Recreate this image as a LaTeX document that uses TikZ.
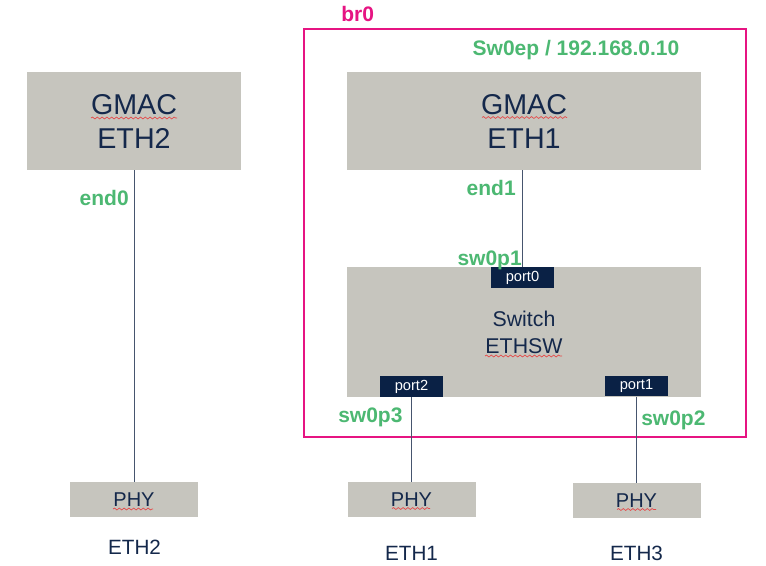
\documentclass[tikz,border=0pt]{standalone}
\usepackage{fontspec}
\setmainfont{Liberation Sans}
\usetikzlibrary{decorations.pathmorphing}
\definecolor{boxgray}{RGB}{198,197,190}
\definecolor{navytext}{RGB}{20,40,75}
\definecolor{portnavy}{RGB}{10,33,69}
\definecolor{labelgreen}{RGB}{76,184,114}
\definecolor{brpink}{RGB}{230,20,130}
\definecolor{linecol}{RGB}{70,85,110}
\definecolor{squigred}{RGB}{230,70,70}
\begin{document}
\begin{tikzpicture}[x=0.75pt,y=-0.75pt,
  graybox/.style={fill=boxgray, draw=none, inner sep=0pt, text=navytext, align=center},
  gmacbox/.style={graybox, minimum height=73.5pt, font=\fontsize{21.5}{25.5}\selectfont},
  phybox/.style={graybox, minimum width=96pt, minimum height=26.25pt, font=\fontsize{15}{18}\selectfont},
  portbox/.style={fill=portnavy, text=white, inner sep=0pt, minimum width=47pt, minimum height=15.5pt, font=\fontsize{11}{13}\selectfont},
  lbl/.style={text=labelgreen, font=\bfseries\fontsize{15.75}{18}\selectfont, inner sep=0pt},
  ethlbl/.style={text=navytext, font=\fontsize{15.5}{18}\selectfont, inner sep=0pt},
  conn/.style={draw=linecol, line width=0.75pt},
  squig/.style={draw=squigred, line width=0.5pt, decorate, decoration={snake, segment length=3.6pt, amplitude=0.7pt}},
  brframe/.style={draw=brpink, line width=1.5pt, inner sep=0pt, minimum width=331.5pt, minimum height=306pt}
]
\path[fill=white] (0,0) rectangle (766,565);
\useasboundingbox (0,0) rectangle (766,565);

% bridge frame
\node[brframe] (br0) at (525,233) {};
\node[text=brpink, font=\bfseries\fontsize{15.75}{18}\selectfont, inner sep=0pt, anchor=base west] (br0lbl) at (341,21.5) {br0};
\node[lbl, anchor=base] (sw0ep) at (576,55) {Sw0ep / 192.168.0.10};

% boxes
\node[gmacbox, minimum width=160.5pt] (gmac2) at (134,121) {GMAC\\ETH2};
\node[gmacbox, minimum width=265.5pt] (gmac1) at (524,121) {GMAC\\ETH1};
\node[graybox, minimum width=265.5pt, minimum height=97.5pt, font=\fontsize{16}{20.25}\selectfont] (sw) at (524,332) {Switch\\ETHSW};
\node[portbox] (port0) at (522.5,277.5) {port0};
\node[portbox] (port2) at (411.5,386.5) {port2};
\node[portbox] (port1) at (636.5,386) {port1};
\node[phybox] (phy2) at (134,499.5) {PHY};
\node[phybox] (phy1) at (411.5,499.5) {PHY};
\node[phybox] (phy3) at (636.5,500.5) {PHY};

% connectors
\draw[conn] (gmac2) -- (phy2);
\draw[conn] (port0.north) -- (port0.north |- gmac1.south);
\draw[conn] (port2.south) -- (port2.south |- phy1.north);
\draw[conn] (port1.south) -- (port1.south |- phy3.north);

% labels
\node[lbl, anchor=base east] (end0) at (129,205) {end0};
\node[lbl, anchor=base east] (end1) at (516,195) {end1};
\node[lbl, anchor=base east] (sw0p1) at (522,265) {sw0p1};
\node[lbl, anchor=base west] (sw0p3) at (338,422) {sw0p3};
\node[lbl, anchor=base west] (sw0p2) at (641,425) {sw0p2};
\node[ethlbl, anchor=base] (eth2) at (134.5,554) {ETH2};
\node[ethlbl, anchor=base] (eth1) at (411.5,560) {ETH1};
\node[ethlbl, anchor=base] (eth3) at (636.5,560) {ETH3};

% spell-check squiggles
\draw[squig] (91,118) -- (177,118);
\draw[squig] (482,117.5) -- (567,117.5);
\draw[squig] (485,356) -- (562,356);
\draw[squig] (113,509) -- (153,509);
\draw[squig] (392,508.5) -- (430,508.5);
\draw[squig] (617,509.5) -- (656,509.5);
\end{tikzpicture}
\end{document}
